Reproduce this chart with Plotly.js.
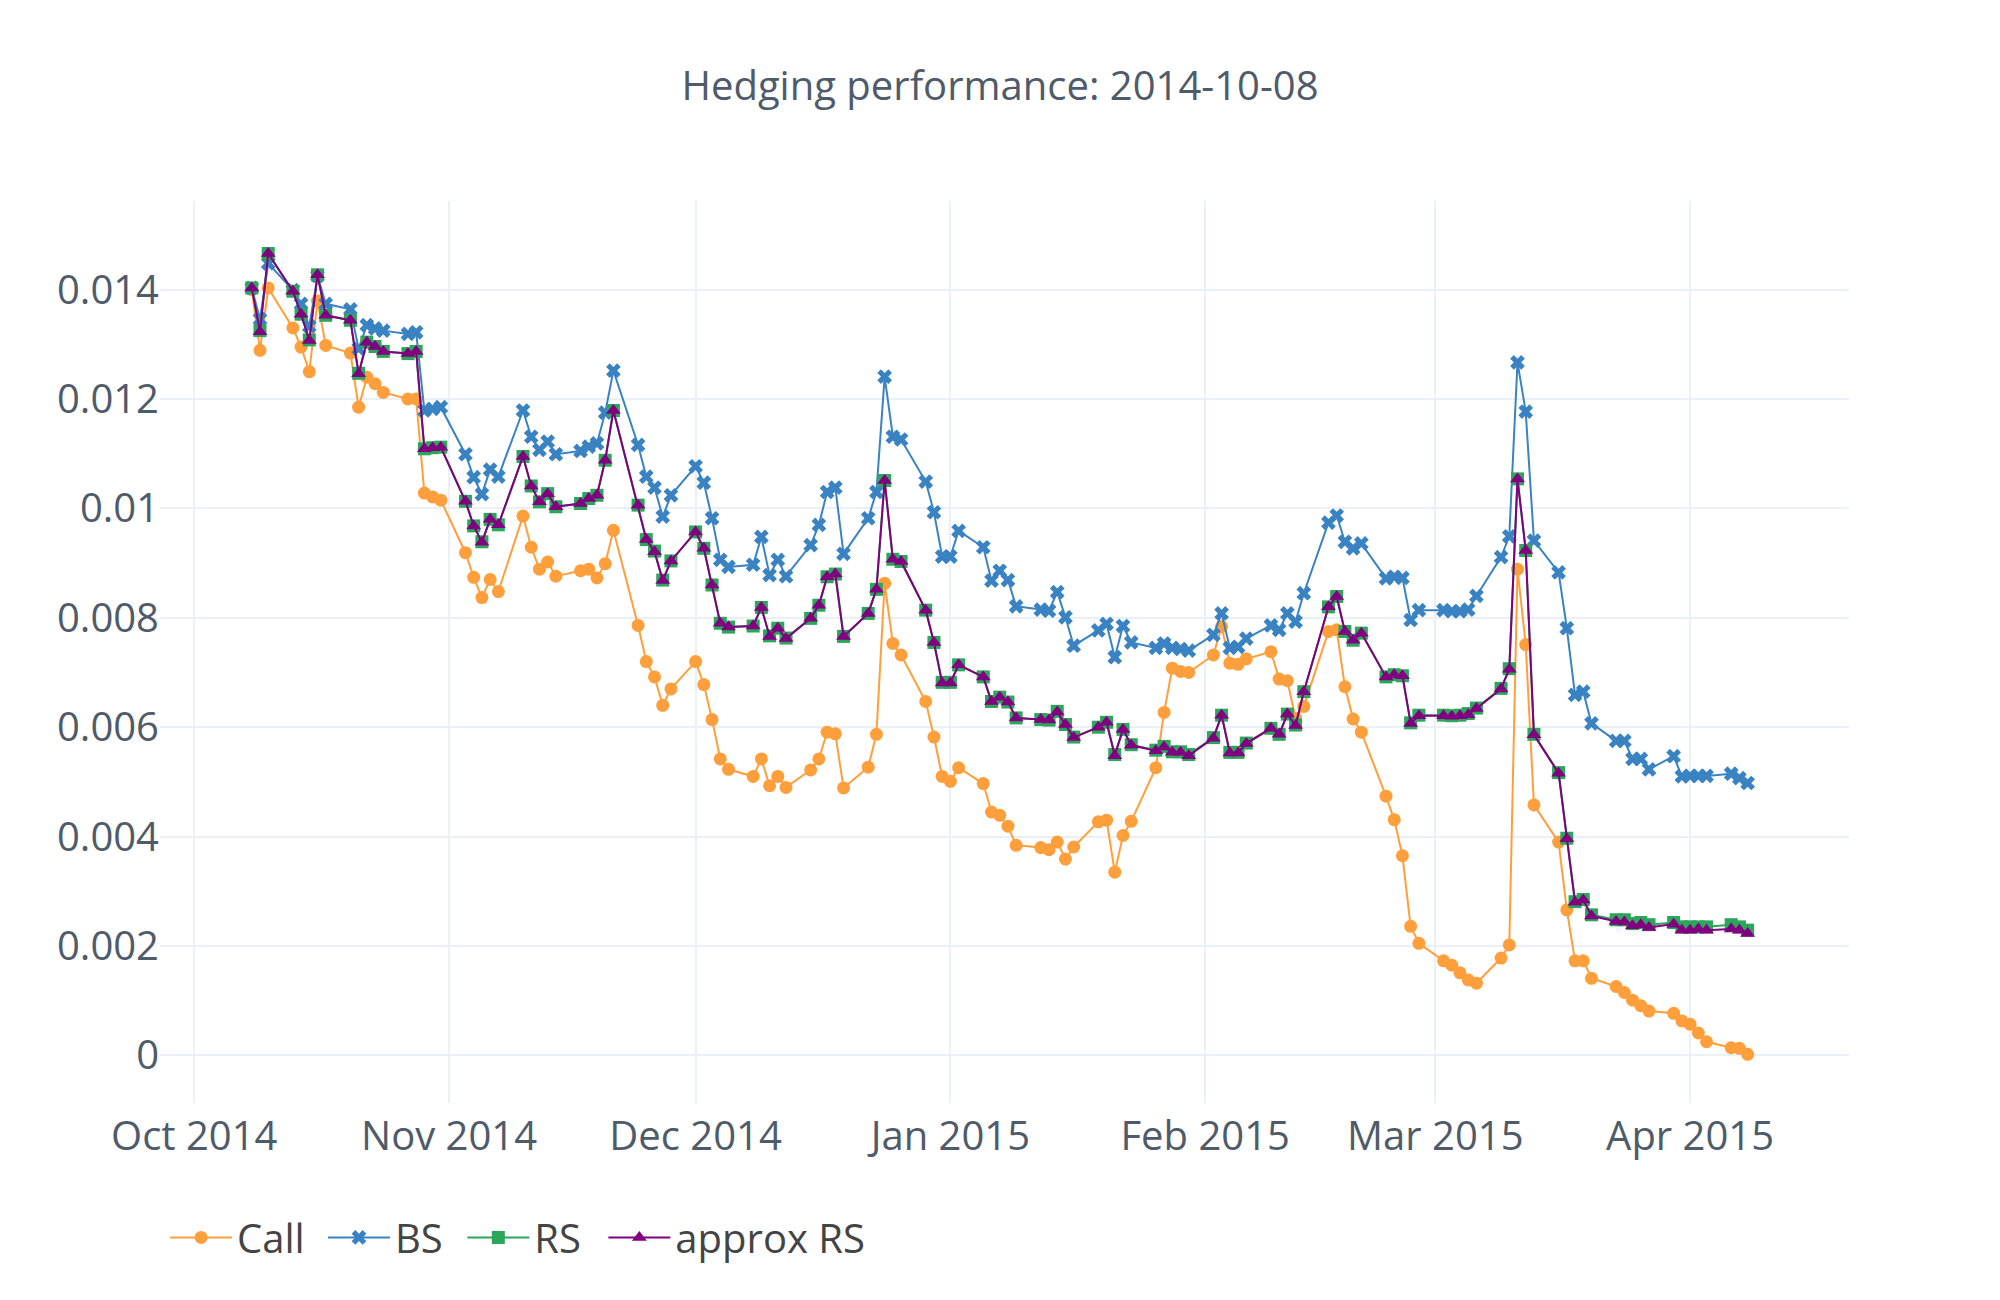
<!DOCTYPE html>
<html>
<head>
<meta charset="utf-8">
<script src="https://cdn.plot.ly/plotly-3.0.1.min.js"></script>
<style>
  html, body { margin: 0; padding: 0; background: #fff; }
  #hedgechart { width: 2000px; height: 1300px; }
</style>
</head>
<body>
<div id="hedgechart"></div>
<script>
// trading days (weekdays) 2014-10-08 .. 2015-04-08
var dates = [
    '2014-10-08', '2014-10-09', '2014-10-10', '2014-10-13', '2014-10-14', '2014-10-15', '2014-10-16', '2014-10-17',
    '2014-10-20', '2014-10-21', '2014-10-22', '2014-10-23', '2014-10-24', '2014-10-27', '2014-10-28', '2014-10-29',
    '2014-10-30', '2014-10-31',
    '2014-11-03', '2014-11-04', '2014-11-05', '2014-11-06', '2014-11-07', '2014-11-10', '2014-11-11', '2014-11-12',
    '2014-11-13', '2014-11-14', '2014-11-17', '2014-11-18', '2014-11-19', '2014-11-20', '2014-11-21', '2014-11-24',
    '2014-11-25', '2014-11-26', '2014-11-27', '2014-11-28',
    '2014-12-01', '2014-12-02', '2014-12-03', '2014-12-04', '2014-12-05', '2014-12-08', '2014-12-09', '2014-12-10',
    '2014-12-11', '2014-12-12', '2014-12-15', '2014-12-16', '2014-12-17', '2014-12-18', '2014-12-19', '2014-12-22',
    '2014-12-23', '2014-12-24', '2014-12-25', '2014-12-26', '2014-12-29', '2014-12-30', '2014-12-31',
    '2015-01-01', '2015-01-02', '2015-01-05', '2015-01-06', '2015-01-07', '2015-01-08', '2015-01-09', '2015-01-12',
    '2015-01-13', '2015-01-14', '2015-01-15', '2015-01-16', '2015-01-19', '2015-01-20', '2015-01-21', '2015-01-22',
    '2015-01-23', '2015-01-26', '2015-01-27', '2015-01-28', '2015-01-29', '2015-01-30',
    '2015-02-02', '2015-02-03', '2015-02-04', '2015-02-05', '2015-02-06', '2015-02-09', '2015-02-10', '2015-02-11',
    '2015-02-12', '2015-02-13', '2015-02-16', '2015-02-17', '2015-02-18', '2015-02-19', '2015-02-20', '2015-02-23',
    '2015-02-24', '2015-02-25', '2015-02-26', '2015-02-27',
    '2015-03-02', '2015-03-03', '2015-03-04', '2015-03-05', '2015-03-06', '2015-03-09', '2015-03-10', '2015-03-11',
    '2015-03-12', '2015-03-13', '2015-03-16', '2015-03-17', '2015-03-18', '2015-03-19', '2015-03-20', '2015-03-23',
    '2015-03-24', '2015-03-25', '2015-03-26', '2015-03-27', '2015-03-30', '2015-03-31',
    '2015-04-01', '2015-04-02', '2015-04-03', '2015-04-06', '2015-04-07', '2015-04-08'
];

var callValues = [
    0.01400, 0.01289, 0.01403, 0.01330, 0.01295, 0.01250, 0.01379, 0.01298, 0.01284, 0.01185, 0.01240, 0.01228,
    0.01212, 0.01200, 0.01200, 0.01028, 0.01021, 0.01015,
    0.00919, 0.00874, 0.00837, 0.00870, 0.00848, 0.00986, 0.00929, 0.00889, 0.00902, 0.00876, 0.00886, 0.00889,
    0.00873, 0.00899, 0.00960, 0.00786, 0.00720, 0.00692, 0.00640, 0.00670,
    0.00720, 0.00678, 0.00614, 0.00542, 0.00523, 0.00510, 0.00542, 0.00493, 0.00510, 0.00490, 0.00522, 0.00542,
    0.00591, 0.00588, 0.00489, 0.00527, 0.00587, 0.00863, 0.00753, 0.00732, 0.00647, 0.00582, 0.00510,
    0.00501, 0.00526, 0.00497, 0.00445, 0.00439, 0.00419, 0.00384, 0.00380, 0.00376, 0.00390, 0.00359, 0.00381,
    0.00427, 0.00430, 0.00335, 0.00402, 0.00428, 0.00526, 0.00627, 0.00708, 0.00702, 0.00700,
    0.00732, 0.00784, 0.00717, 0.00715, 0.00725, 0.00738, 0.00688, 0.00685, 0.00616, 0.00638, 0.00775, 0.00778,
    0.00674, 0.00615, 0.00591, 0.00474, 0.00431, 0.00365, 0.00236, 0.00205,
    0.00173, 0.00165, 0.00151, 0.00138, 0.00132, 0.00178, 0.00202, 0.00889, 0.00751, 0.00458, 0.00390, 0.00266,
    0.00173, 0.00173, 0.00141, 0.00126, 0.00115, 0.00101, 0.00091, 0.00081, 0.00077, 0.00063,
    0.00057, 0.00041, 0.00025, 0.00014, 0.00013, 0.00002
];

var bsValues = [
    0.01403, 0.01346, 0.01448, 0.01399, 0.01374, 0.01333, 0.01425, 0.01374, 0.01364, 0.01292, 0.01335, 0.01329,
    0.01325, 0.01319, 0.01322, 0.01179, 0.01182, 0.01185,
    0.01099, 0.01057, 0.01026, 0.01071, 0.01058, 0.01179, 0.01131, 0.01107, 0.01122, 0.01099, 0.01105, 0.01113,
    0.01119, 0.01175, 0.01252, 0.01116, 0.01058, 0.01038, 0.00985, 0.01024,
    0.01077, 0.01047, 0.00982, 0.00906, 0.00893, 0.00897, 0.00948, 0.00878, 0.00906, 0.00876, 0.00933, 0.00970,
    0.01030, 0.01038, 0.00917, 0.00982, 0.01030, 0.01241, 0.01131, 0.01126, 0.01049, 0.00993, 0.00912,
    0.00912, 0.00959, 0.00929, 0.00868, 0.00886, 0.00869, 0.00821, 0.00815, 0.00813, 0.00847, 0.00801, 0.00749,
    0.00777, 0.00789, 0.00728, 0.00785, 0.00755, 0.00745, 0.00753, 0.00745, 0.00743, 0.00740,
    0.00769, 0.00808, 0.00745, 0.00747, 0.00762, 0.00786, 0.00778, 0.00808, 0.00793, 0.00845, 0.00974, 0.00987,
    0.00939, 0.00927, 0.00936, 0.00872, 0.00875, 0.00873, 0.00796, 0.00814,
    0.00814, 0.00812, 0.00812, 0.00815, 0.00840, 0.00911, 0.00949, 0.01267, 0.01177, 0.00941, 0.00883, 0.00781,
    0.00659, 0.00665, 0.00607, 0.00575, 0.00575, 0.00542, 0.00542, 0.00523, 0.00547, 0.00510,
    0.00511, 0.00511, 0.00511, 0.00515, 0.00507, 0.00498
];

var rsValues = [
    0.01403, 0.01325, 0.01466, 0.01397, 0.01355, 0.01308, 0.01427, 0.01353, 0.01344, 0.01247, 0.01304, 0.01296,
    0.01287, 0.01283, 0.01287, 0.01109, 0.01111, 0.01112,
    0.01013, 0.00968, 0.00939, 0.00980, 0.00970, 0.01095, 0.01041, 0.01012, 0.01027, 0.01003, 0.01009, 0.01018,
    0.01024, 0.01088, 0.01179, 0.01006, 0.00943, 0.00922, 0.00869, 0.00904,
    0.00957, 0.00927, 0.00860, 0.00790, 0.00783, 0.00785, 0.00819, 0.00767, 0.00781, 0.00763, 0.00799, 0.00823,
    0.00875, 0.00880, 0.00766, 0.00808, 0.00852, 0.01051, 0.00907, 0.00903, 0.00814, 0.00755, 0.00682,
    0.00682, 0.00714, 0.00692, 0.00647, 0.00655, 0.00646, 0.00617, 0.00614, 0.00613, 0.00629, 0.00605, 0.00582,
    0.00600, 0.00609, 0.00550, 0.00596, 0.00568, 0.00558, 0.00565, 0.00555, 0.00555, 0.00550,
    0.00581, 0.00622, 0.00554, 0.00554, 0.00571, 0.00598, 0.00587, 0.00624, 0.00604, 0.00665, 0.00820, 0.00839,
    0.00775, 0.00759, 0.00772, 0.00692, 0.00696, 0.00694, 0.00608, 0.00622,
    0.00622, 0.00621, 0.00622, 0.00625, 0.00635, 0.00671, 0.00707, 0.01054, 0.00923, 0.00587, 0.00517, 0.00397,
    0.00281, 0.00285, 0.00257, 0.00248, 0.00248, 0.00241, 0.00243, 0.00239, 0.00243, 0.00235,
    0.00235, 0.00235, 0.00235, 0.00239, 0.00235, 0.00229
];

var approxRsValues = [
    0.01403, 0.01323, 0.01466, 0.01397, 0.01355, 0.01307, 0.01427, 0.01353, 0.01344, 0.01246, 0.01304, 0.01296,
    0.01287, 0.01283, 0.01287, 0.01109, 0.01111, 0.01112,
    0.01013, 0.00968, 0.00938, 0.00980, 0.00970, 0.01095, 0.01041, 0.01012, 0.01027, 0.01003, 0.01009, 0.01018,
    0.01024, 0.01088, 0.01179, 0.01006, 0.00943, 0.00921, 0.00868, 0.00904,
    0.00957, 0.00927, 0.00860, 0.00790, 0.00783, 0.00785, 0.00819, 0.00766, 0.00781, 0.00762, 0.00799, 0.00823,
    0.00875, 0.00880, 0.00766, 0.00808, 0.00852, 0.01051, 0.00907, 0.00903, 0.00814, 0.00755, 0.00681,
    0.00681, 0.00714, 0.00692, 0.00647, 0.00655, 0.00646, 0.00617, 0.00614, 0.00613, 0.00628, 0.00605, 0.00581,
    0.00600, 0.00609, 0.00548, 0.00596, 0.00567, 0.00557, 0.00564, 0.00554, 0.00554, 0.00548,
    0.00580, 0.00622, 0.00553, 0.00553, 0.00570, 0.00598, 0.00587, 0.00624, 0.00603, 0.00665, 0.00820, 0.00839,
    0.00775, 0.00759, 0.00772, 0.00692, 0.00696, 0.00694, 0.00607, 0.00621,
    0.00621, 0.00620, 0.00621, 0.00623, 0.00634, 0.00670, 0.00706, 0.01054, 0.00923, 0.00586, 0.00516, 0.00396,
    0.00280, 0.00284, 0.00255, 0.00245, 0.00244, 0.00237, 0.00239, 0.00234, 0.00240, 0.00229,
    0.00229, 0.00231, 0.00229, 0.00231, 0.00229, 0.00223
];

var seriesNames = ['Call', 'BS', 'RS', 'approx RS'];
var seriesColors = ['#ff9f3c', '#3a83c2', '#2ca65a', '#800080'];
var seriesSymbols = ['circle', 'x', 'square', 'triangle-up'];
var seriesValues = [callValues, bsValues, rsValues, approxRsValues];

// one legend box per series so the entries can be spaced like the original
var legendIds = ['legend', 'legend2', 'legend3', 'legend4'];
var legendX = [0.003, 0.0965, 0.179, 0.2625];

function makeTrace(i) {
    return {
        x: dates,
        y: seriesValues[i],
        name: seriesNames[i],
        type: 'scatter',
        mode: 'lines+markers',
        legend: legendIds[i],
        line: { color: seriesColors[i], width: 2 },
        marker: { color: seriesColors[i], symbol: seriesSymbols[i], size: 13 }
    };
}

function makeLegend(i) {
    return {
        orientation: 'h',
        x: legendX[i],
        xanchor: 'left',
        y: -0.149,
        yanchor: 'middle',
        itemwidth: 62,
        bgcolor: 'rgba(0,0,0,0)',
        font: { size: 40, color: '#444444' }
    };
}

var data = [];
for (var i = 0; i < seriesNames.length; i++) {
    data.push(makeTrace(i));
}

var tickColor = '#4f5b69';

var layout = {
    width: 2000,
    height: 1300,
    margin: { l: 160, r: 151, t: 201, b: 197 },
    paper_bgcolor: '#ffffff',
    plot_bgcolor: '#ffffff',
    font: { family: '"Open Sans", verdana, arial, sans-serif', size: 40, color: tickColor },
    title: {
        text: 'Hedging performance: 2014-10-08',
        font: { size: 40, color: tickColor },
        x: 0.5,
        xref: 'container',
        y: 0.934,
        yref: 'container',
        yanchor: 'middle'
    },
    xaxis: {
        type: 'date',
        range: ['2014-09-26 20:00', '2015-04-20 08:00'],
        tick0: '2014-10-01',
        dtick: 'M1',
        tickformat: '%b %Y',
        gridcolor: '#ebf0f8',
        gridwidth: 2,
        zeroline: false,
        showline: false,
        ticks: '',
        ticklabelstandoff: 6,
        tickfont: { size: 40, color: tickColor }
    },
    yaxis: {
        range: [-0.00087, 0.01562],
        dtick: 0.002,
        gridcolor: '#ebf0f8',
        gridwidth: 2,
        zeroline: false,
        showline: false,
        ticks: '',
        tickfont: { size: 40, color: tickColor }
    },
    showlegend: true
};

for (var j = 0; j < legendIds.length; j++) {
    layout[legendIds[j]] = makeLegend(j);
}

Plotly.newPlot('hedgechart', data, layout, { staticPlot: true });
</script>
</body>
</html>
